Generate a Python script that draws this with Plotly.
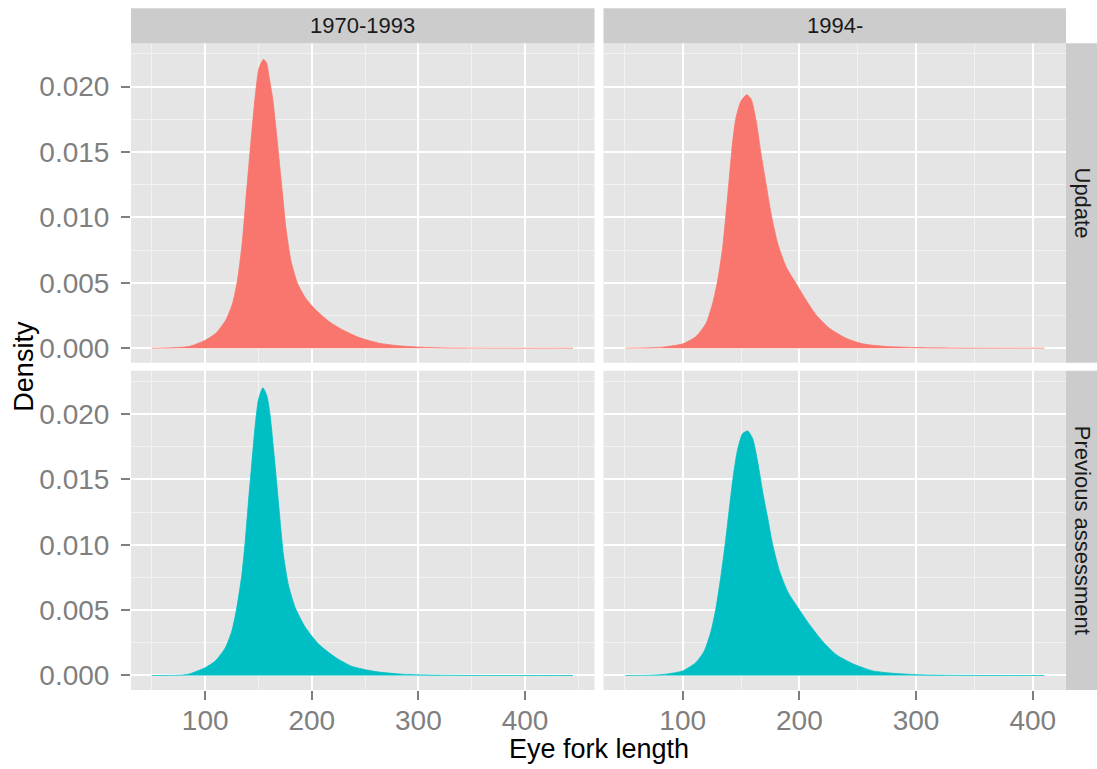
import plotly.graph_objects as go

# ---------------- data ----------------
periods = ["1970-1993", "1994-"]
sources = ["Update", "Previous assessment"]
x_axis_title = "Eye fork length"
y_axis_title = "Density"
x_tick_values = [100, 200, 300, 400]
y_tick_values = [0.000, 0.005, 0.010, 0.015, 0.020]

# Update, 1970-1993
upd_early_x = [50, 85, 100.6, 110, 119.4, 125.6, 130.3, 135, 138.1, 141.3, 144.4, 147.5, 150.6,
               154.7, 157.5, 160, 163.1, 166.3, 169.4, 172.5, 175.6, 180.3, 186.6, 194.4, 203.8,
               216.3, 228.8, 244.4, 263.1, 281.9, 300.6, 330, 380, 445]
upd_early_y = [0.0, 0.00013, 0.00063, 0.00114, 0.00216, 0.0034, 0.0052, 0.00825, 0.0113, 0.0143,
               0.0171, 0.0197, 0.02145, 0.02208, 0.02183, 0.0207, 0.0192, 0.01688, 0.01434, 0.0118,
               0.00926, 0.00673, 0.00495, 0.0038, 0.00292, 0.00203, 0.0014, 0.00081, 0.00038,
               0.00018, 0.00008, 0.00002, 0.0, 0.0]

# Update, 1994-
upd_late_x = [51, 82.9, 100, 111.4, 120, 125.7, 130, 134.3, 137.1, 140, 142.9, 145.7, 150, 154.9,
              158.6, 162.9, 167.1, 171.4, 175.7, 181.4, 188.6, 197.1, 205.7, 214.3, 225.7, 240,
              254.3, 274.3, 300, 340, 410]
upd_late_y = [0.0, 0.00008, 0.00033, 0.00089, 0.0019, 0.00343, 0.0052, 0.00774, 0.01028, 0.01307,
              0.01586, 0.01764, 0.0189, 0.01937, 0.01904, 0.01739, 0.01485, 0.01256, 0.01028,
              0.008, 0.00622, 0.00495, 0.00368, 0.00254, 0.00152, 0.00076, 0.00033, 0.00013,
              0.00005, 0.00001, 0.0]

# Previous assessment, 1970-1993
prev_early_x = [50, 75, 84.4, 100, 109.4, 118.8, 125, 129.7, 134.4, 137.5, 140.6, 143.8, 146.9,
                150, 154.1, 157.8, 160.9, 164.1, 167.2, 170.3, 173.4, 178.1, 184.4, 193.8, 206.3,
                221.9, 237.5, 259.4, 284.4, 312.5, 360, 445]
prev_early_y = [0.0, 0.00002, 0.0001, 0.0006, 0.0011, 0.0021, 0.0034, 0.0052, 0.0077, 0.0102,
                0.0133, 0.0163, 0.0191, 0.0211, 0.022, 0.0214, 0.0199, 0.0173, 0.0146, 0.0118,
                0.0092, 0.0069, 0.0052, 0.0037, 0.0024, 0.0014, 0.0007, 0.0003, 0.0001, 0.00003,
                0.0, 0.0]

# Previous assessment, 1994-
prev_late_x = [51, 71.4, 85.7, 100, 111.4, 118.6, 124.3, 128.6, 132.9, 136.6, 140, 143.4, 147.1,
               151.4, 155.7, 160, 164.3, 168.6, 172.9, 177.1, 182.9, 190, 198.6, 208.6, 220,
               231.4, 245.7, 262.9, 282.9, 302.9, 340, 410]
prev_late_y = [0.0, 0.00002, 0.0001, 0.00035, 0.001, 0.0019, 0.0034, 0.0052, 0.0077, 0.0102,
               0.0128, 0.0153, 0.0173, 0.0185, 0.0187, 0.0181, 0.0163, 0.014, 0.012, 0.01, 0.008,
               0.0064, 0.0052, 0.0039, 0.0026, 0.0016, 0.0009, 0.00035, 0.00015, 0.00005,
               0.00001, 0.0]

# ---------------- styling ----------------
W, H = 1097, 769
FONT = "Liberation Sans, Arial, sans-serif"
RED, TEAL = "#F8766D", "#00BFC4"
PANEL_BG, STRIP_BG = "#E5E5E5", "#CCCCCC"
GREY = "#7F7F7F"

# panel pixel boxes
col_px = [(131, 594.5), (603.5, 1066)]
row_px = [(43.3, 362.7), (370.7, 690)]
strip_top = 8.3
strip_right = 1097

def px_x(p):
    return p / W

def px_y(p):
    return 1 - p / H

x_ranges = [[30.4, 465.2], [32.1, 428.5]]
y_range = [-0.00111, 0.02331]

fig = go.Figure()

panels = [
    (0, 0, upd_early_x, upd_early_y, RED),
    (0, 1, upd_late_x, upd_late_y, RED),
    (1, 0, prev_early_x, prev_early_y, TEAL),
    (1, 1, prev_late_x, prev_late_y, TEAL),
]

layout_axes = {}
for idx, (r, c, xs, ys, col) in enumerate(panels):
    n = idx + 1
    xa = "x" if n == 1 else f"x{n}"
    ya = "y" if n == 1 else f"y{n}"
    fig.add_trace(go.Scatter(
        x=xs, y=ys, xaxis=xa, yaxis=ya, mode="lines", fill="tozeroy",
        fillcolor=col, line=dict(color=col, width=0.8, shape="spline", smoothing=0.6),
        showlegend=False, hoverinfo="skip"))
    bottom = (r == 1)
    left = (c == 0)
    layout_axes[f"xaxis{'' if n == 1 else n}"] = dict(
        domain=[px_x(col_px[c][0]), px_x(col_px[c][1])],
        anchor=ya, range=x_ranges[c], tickmode="array", tickvals=x_tick_values,
        showgrid=True, gridcolor="white", gridwidth=2, zeroline=False,
        showticklabels=bottom, ticks="outside" if bottom else "", ticklen=9, tickwidth=1.5,
        tickcolor=GREY, tickfont=dict(family=FONT, size=28, color=GREY),
        ticklabelstandoff=-4,
        minor=dict(tickmode="array", tickvals=[50, 150, 250, 350, 450], showgrid=True,
                   gridcolor="#F2F2F2", gridwidth=1, ticks=""),
        showline=False,
    )
    layout_axes[f"yaxis{'' if n == 1 else n}"] = dict(
        domain=[px_y(row_px[r][1]), px_y(row_px[r][0])],
        anchor=xa, range=y_range, tickmode="array", tickvals=y_tick_values,
        tickformat=".3f",
        showgrid=True, gridcolor="white", gridwidth=2, zeroline=False,
        showticklabels=left, ticks="outside" if left else "", ticklen=9, tickwidth=1.5,
        tickcolor=GREY, tickfont=dict(family=FONT, size=28, color=GREY),
        ticklabelstandoff=6,
        minor=dict(tickmode="array", tickvals=[0.0025, 0.0075, 0.0125, 0.0175, 0.0225],
                   showgrid=True, gridcolor="#F2F2F2", gridwidth=1, ticks=""),
        showline=False,
    )

shapes = []
annotations = []
# panel backgrounds
for r in range(2):
    for c in range(2):
        shapes.append(dict(type="rect", xref="paper", yref="paper", layer="below",
                           x0=px_x(col_px[c][0]), x1=px_x(col_px[c][1]),
                           y0=px_y(row_px[r][1]), y1=px_y(row_px[r][0]),
                           fillcolor=PANEL_BG, line=dict(width=0)))
# top strips
for c, lab in enumerate(periods):
    shapes.append(dict(type="rect", xref="paper", yref="paper",
                       x0=px_x(col_px[c][0]), x1=px_x(col_px[c][1]),
                       y0=px_y(row_px[0][0]), y1=px_y(strip_top),
                       fillcolor=STRIP_BG, line=dict(width=0)))
    annotations.append(dict(text=lab, xref="paper", yref="paper",
                            x=px_x((col_px[c][0] + col_px[c][1]) / 2),
                            y=px_y((strip_top + row_px[0][0]) / 2),
                            xanchor="center", yanchor="middle", showarrow=False,
                            font=dict(family=FONT, size=22, color="#1A1A1A")))
# right strips
for r, lab in enumerate(sources):
    shapes.append(dict(type="rect", xref="paper", yref="paper",
                       x0=px_x(col_px[1][1]), x1=px_x(strip_right),
                       y0=px_y(row_px[r][1]), y1=px_y(row_px[r][0]),
                       fillcolor=STRIP_BG, line=dict(width=0)))
    annotations.append(dict(text=lab, xref="paper", yref="paper",
                            x=px_x((col_px[1][1] + strip_right) / 2 + 1),
                            y=px_y((row_px[r][0] + row_px[r][1]) / 2),
                            xanchor="center", yanchor="middle", showarrow=False,
                            textangle=90,
                            font=dict(family=FONT, size=22, color="#1A1A1A")))
# axis titles
annotations.append(dict(text=x_axis_title, xref="paper", yref="paper",
                        x=px_x((col_px[0][0] + col_px[1][1]) / 2), y=px_y(749),
                        xanchor="center", yanchor="middle", showarrow=False,
                        font=dict(family=FONT, size=27, color="black")))
annotations.append(dict(text=y_axis_title, xref="paper", yref="paper",
                        x=px_x(24), y=px_y((row_px[0][0] + row_px[1][1]) / 2),
                        xanchor="center", yanchor="middle", showarrow=False,
                        textangle=-90,
                        font=dict(family=FONT, size=27, color="black")))

fig.update_layout(
    width=W, height=H,
    margin=dict(l=0, r=0, t=0, b=0),
    paper_bgcolor="white", plot_bgcolor="rgba(0,0,0,0)",
    shapes=shapes, annotations=annotations,
    showlegend=False,
    **layout_axes,
)

fig.write_html("out.html")
